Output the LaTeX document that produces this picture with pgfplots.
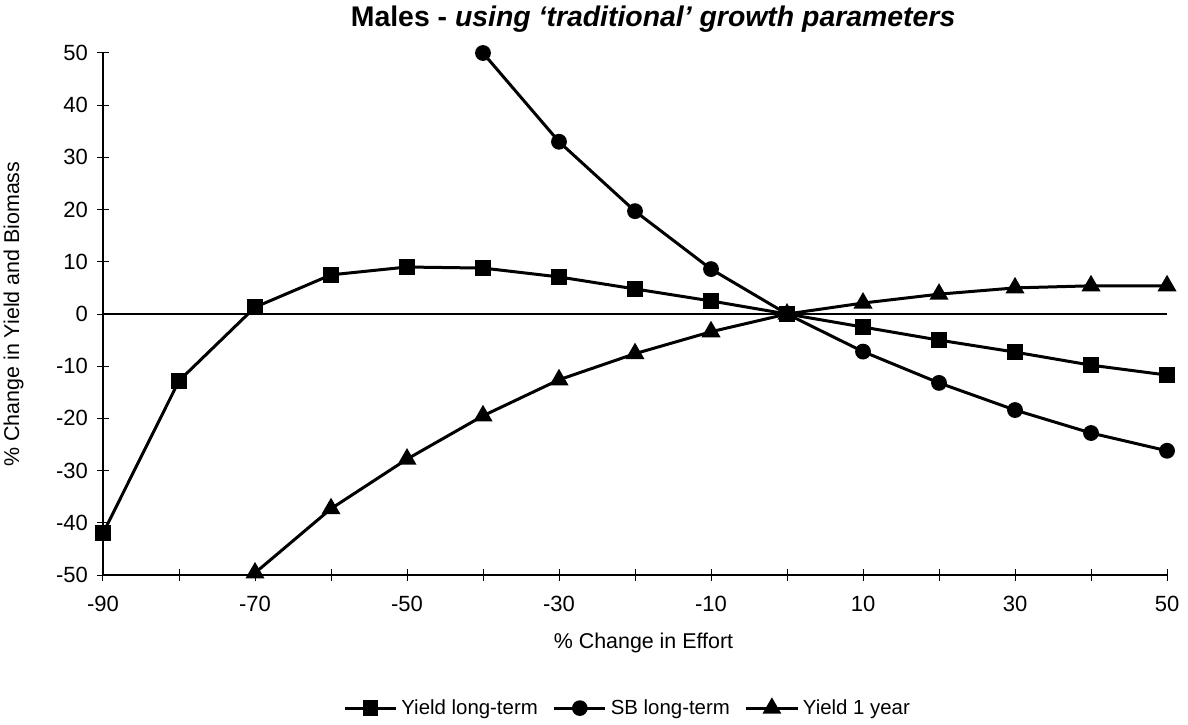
\documentclass[border=0pt]{standalone}
\usepackage{fontspec}
\setmainfont{Liberation Sans}
\usepackage{pgfplots}
\pgfplotsset{compat=1.18}
\begin{document}
\begin{tikzpicture}
\useasboundingbox (-51.5pt,-74.5pt) rectangle (542.5pt,287.5pt);
\begin{axis}[
    at={(0pt,0pt)}, anchor=south west,
    scale only axis,
    width=532pt, height=261pt,
    xmin=-90, xmax=50, ymin=-50, ymax=50,
    axis x line=bottom, axis y line=left,
    axis line style={-, line width=0.6pt},
    xtick={-90,-70,...,50},
    minor xtick={-80,-60,...,40},
    ytick={-50,-40,...,50},
    tick align=center,
    major tick length=6pt, minor tick length=6pt,
    tick style={black, line width=0.5pt},
    ticklabel style={font=\fontsize{11}{13}\selectfont},
    xticklabel style={yshift=-4pt},
    yticklabel style={xshift=-1pt},
    /pgf/number format/assume math mode=true,
    xlabel={\% Change in Effort},
    ylabel={\% Change in Yield and Biomass},
    label style={font=\fontsize{10.7}{12}\selectfont},
    xlabel style={at={(axis description cs:0.508,-0.13)}, anchor=center},
    ylabel style={at={(axis description cs:-0.084,0.5)}, anchor=center},
    title={\textbf{Males - \textit{using ‘traditional’ growth parameters}}},
    title style={font=\fontsize{14.2}{16}\selectfont, at={(axis description cs:0.517,1.042)}, anchor=center},
    legend style={at={(axis description cs:0.494,-0.255)}, anchor=center, draw=none,
        legend columns=-1, font=\fontsize{10.2}{12}\selectfont,
        /tikz/every even column/.append style={column sep=5.5pt}},
    legend image code/.code={\draw[mark repeat=2,mark phase=2,line width=1.4pt]
        plot coordinates {(0cm,0cm) (0.45cm,0cm) (0.9cm,0cm)};},
    clip=false,
]
\addplot[black, line width=1.4pt, forget plot] coordinates {(-90,0) (50,0)};
\addplot[black, line width=1.5pt, mark=square*, mark size=3.2pt] coordinates {
(-90,-42) (-80,-12.8) (-70,1.3) (-60,7.5) (-50,9.0) (-40,8.8) (-30,7.1)
(-20,4.8) (-10,2.5) (0,0) (10,-2.5) (20,-5.0) (30,-7.3) (40,-9.8) (50,-11.7)};
\addplot[black, line width=1.5pt, mark=*, mark size=3.2pt] coordinates {
(-40,50) (-30,33) (-20,19.7) (-10,8.6) (0,0) (10,-7.2) (20,-13.2)
(30,-18.4) (40,-22.8) (50,-26.2)};
\addplot[black, line width=1.5pt, mark=triangle*, mark size=4pt] coordinates {
(-70,-49.6) (-60,-37.3) (-50,-27.8) (-40,-19.5) (-30,-12.6) (-20,-7.6)
(-10,-3.4) (0,0) (10,2.1) (20,3.8) (30,5.0) (40,5.4) (50,5.4)};
\legend{Yield long-term, SB long-term, Yield 1 year}
\end{axis}
\end{tikzpicture}
\end{document}
